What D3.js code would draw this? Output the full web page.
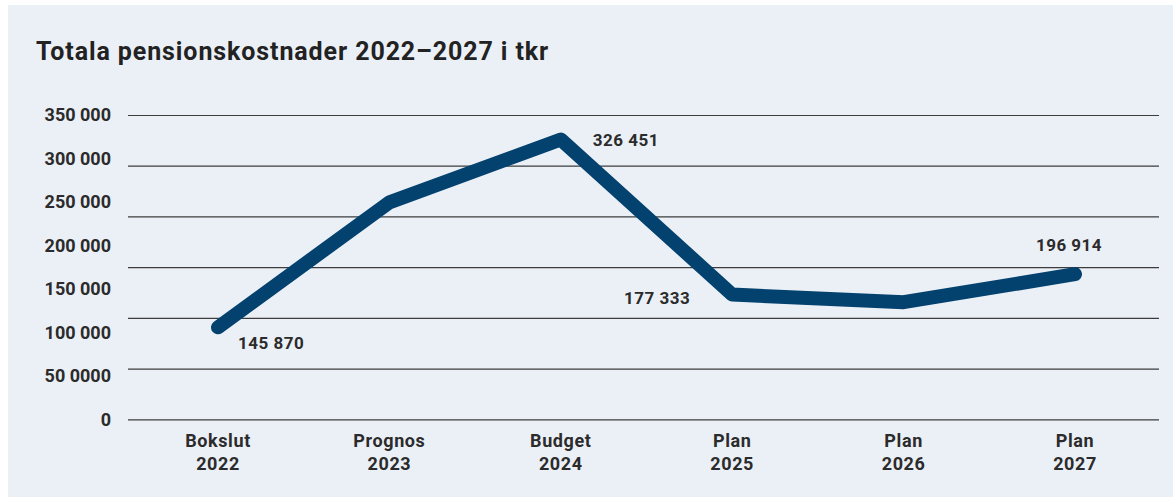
<!DOCTYPE html>
<html>
<head>
<meta charset="utf-8">
<script src="https://cdn.jsdelivr.net/npm/d3@7"></script>
<style>
  body { margin: 0; background: #fff; }
  svg { display: block; font-family: Roboto, "Open Sans", sans-serif; }
  .grid line { stroke: #3c3c3c; stroke-width: 1.2; }
  .grid path { display: none; }
  .y-labels text { font-size: 18px; font-weight: 700; fill: #2b2b2b; }
  .cat text { font-size: 18px; font-weight: 700; fill: #2b2b2b; letter-spacing: 0.6px; }
  .val { font-size: 17px; font-weight: 700; fill: #2b2b2b; letter-spacing: 0.5px; }
</style>
</head>
<body>
<script>
var categories = ["Bokslut 2022", "Prognos 2023", "Budget 2024", "Plan 2025", "Plan 2026", "Plan 2027"];
var values = [145870, 266000, 326451, 177333, 170000, 196914];
var valueLabels = ["145 870", null, "326 451", "177 333", null, "196 914"];
var tickValues = [0, 50000, 100000, 150000, 200000, 250000, 300000, 350000];
var tickLabels = ["0", "50 0000", "100 000", "150 000", "200 000", "250 000", "300 000", "350 000"];
var gridValues = [0, 50000, 100000, 150000, 200000, 250000, 300000];

// where each value label sits next to its point
var labelPlace = [
  {anchor: "start", dx: 20, dy: 22},
  null,
  {anchor: "start", dx: 32, dy: 7},
  {anchor: "end", dx: -42, dy: 9},
  null,
  {anchor: "middle", dx: -6, dy: -23}
];

var width = 1173, height = 502;

var svg = d3.select("body").append("svg")
  .attr("width", width)
  .attr("height", height);

svg.append("rect")
  .attr("x", 8).attr("y", 5)
  .attr("width", width - 8).attr("height", 492)
  .attr("fill", "#ebf0f7");

svg.append("text")
  .attr("x", 36).attr("y", 60)
  .attr("font-size", 25)
  .attr("font-weight", 700)
  .attr("letter-spacing", "0.9px")
  .attr("fill", "#222")
  .text("Totala pensionskostnader 2022\u20132027 i tkr");

// the grid and the tick labels do not share spacing in the original
var yGrid = d3.scaleLinear().domain([0, 300000]).range([419.3, 115]);
var yLabel = d3.scaleLinear().domain([0, 350000]).range([419.3, 115]);
var y = d3.scaleLinear().domain([0, 350000]).range([479, 115]);
var x = d3.scalePoint().domain(categories).range([218, 1075]);

svg.append("g")
  .attr("class", "grid")
  .attr("transform", "translate(128,0)")
  .call(d3.axisRight(yGrid).tickValues(gridValues).tickSize(1031).tickFormat(""));

svg.append("g")
  .attr("class", "y-labels")
  .selectAll("text")
  .data(tickValues)
  .enter().append("text")
  .attr("x", 111)
  .attr("y", function(d) { return yLabel(d); })
  .attr("dy", "0.36em")
  .attr("text-anchor", "end")
  .text(function(d, i) { return tickLabels[i]; });

var cat = svg.append("g").attr("class", "cat")
  .selectAll("text")
  .data(categories)
  .enter().append("text")
  .attr("text-anchor", "middle")
  .attr("transform", function(d) { return "translate(" + x(d) + ",0)"; });
cat.append("tspan").attr("x", 0).attr("y", 446.7).text(function(d) { return d.split(" ")[0]; });
cat.append("tspan").attr("x", 0).attr("y", 470).text(function(d) { return d.split(" ")[1]; });

var line = d3.line()
  .x(function(d, i) { return x(categories[i]); })
  .y(function(d) { return y(d); });

svg.append("path")
  .datum(values)
  .attr("d", line)
  .attr("fill", "none")
  .attr("stroke", "#03416f")
  .attr("stroke-width", 14)
  .attr("stroke-linecap", "round")
  .attr("stroke-linejoin", "round");

var labelled = values.map(function(v, i) {
  return {cat: categories[i], value: v, text: valueLabels[i], place: labelPlace[i]};
}).filter(function(d) { return d.text; });

svg.selectAll(".val")
  .data(labelled)
  .enter().append("text")
  .attr("class", "val")
  .attr("text-anchor", function(d) { return d.place.anchor; })
  .attr("x", function(d) { return x(d.cat) + d.place.dx; })
  .attr("y", function(d) { return y(d.value) + d.place.dy; })
  .text(function(d) { return d.text; });
</script>
</body>
</html>
